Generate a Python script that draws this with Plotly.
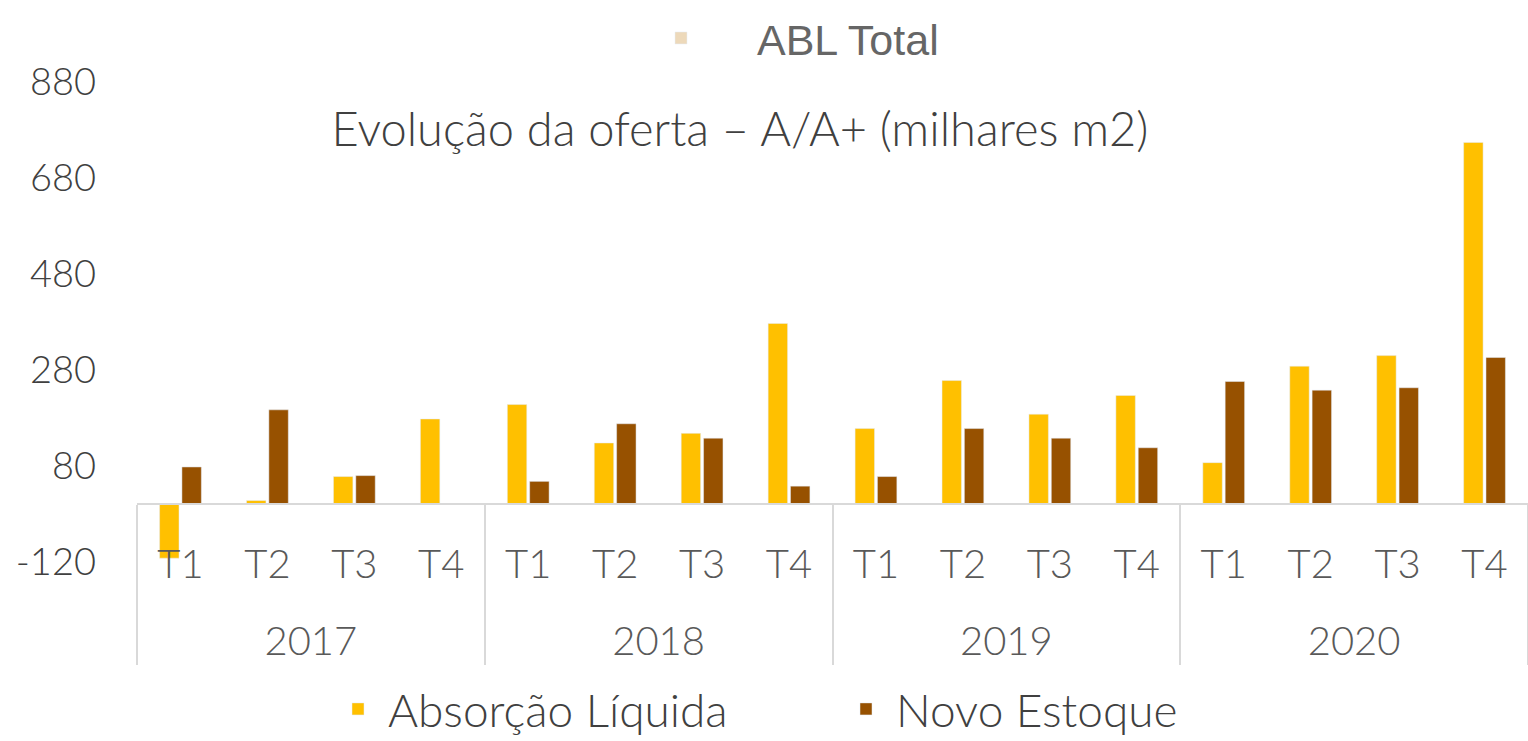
import plotly.graph_objects as go

years = ["2017"] * 4 + ["2018"] * 4 + ["2019"] * 4 + ["2020"] * 4
quarters = ["T1", "T2", "T3", "T4"] * 4

absorcao_liquida = [-112, 8, 58, 178, 208, 128, 148, 377, 158, 258, 188, 227, 87, 288, 310, 754]
novo_estoque = [78, 197, 60, 0, 48, 168, 138, 38, 58, 158, 138, 118, 256, 238, 243, 306]
abl_total = [None] * 16

y_min, y_max, y_step = -120, 880, 200
y_ticks = list(range(y_min, y_max + 1, y_step))
y_tick_text = [str(v) for v in y_ticks]

title_text = "Evolução da oferta – A/A+ (milhares m2)"

FONT = "Lato"
GOLD = "#FFC000"
BROWN = "#975100"
BEIGE = "#EDD9BA"

# second-level labels pushed one line lower to mimic the reference spacing
year_labels = ["<br>" + y for y in years]
x_cats = [year_labels, quarters]

fig = go.Figure()
fig.add_trace(go.Bar(x=x_cats, y=absorcao_liquida, name="Absorção Líquida",
                     marker=dict(color=GOLD), offsetgroup="a", legend="legend"))
fig.add_trace(go.Bar(x=x_cats, y=novo_estoque, name="Novo Estoque",
                     marker=dict(color=BROWN), offsetgroup="b", legend="legend"))
fig.add_trace(go.Bar(x=x_cats, y=abl_total, name="ABL Total",
                     marker=dict(color=BEIGE), offsetgroup="a", legend="legend2"))

zero_pos = (0 - y_min) / (y_max - y_min)

fig.update_layout(
    width=1528, height=741,
    margin=dict(l=137, r=0, t=82, b=741 - 562, autoexpand=False),
    paper_bgcolor="white", plot_bgcolor="white",
    barmode="group", bargap=0.486, bargroupgap=0.13,
    font=dict(family=FONT, color="#404040"),
    title=dict(text=title_text, x=740 / 1528, xref="container", xanchor="center",
               y=1 - 130 / 741, yref="container", yanchor="middle",
               font=dict(family=FONT, size=47, color="#404040", weight=300)),
    xaxis=dict(type="multicategory", anchor="free", position=zero_pos,
               showline=True, linecolor="#D9D9D9", linewidth=2,
               showdividers=True, dividercolor="#D9D9D9", dividerwidth=2,
               ticks="", showgrid=False, ticklabelstandoff=25,
               tickfont=dict(family=FONT, size=40, color="#595959", weight=300)),
    yaxis=dict(range=[y_min, y_max], tickvals=y_ticks, ticktext=y_tick_text,
               showgrid=False, zeroline=False,
               showline=False, ticks="", ticklabelstandoff=40,
               tickfont=dict(family=FONT, size=38, color="#404040", weight=300)),
    legend=dict(orientation="h", xref="container", x=328 / 1528, xanchor="left",
                yref="container", y=1 - 709 / 741, yanchor="middle",
                font=dict(family=FONT, size=46, color="#404040", weight=300),
                itemwidth=50, entrywidth=443, entrywidthmode="pixels",
                traceorder="normal", bgcolor="rgba(0,0,0,0)"),
    legend2=dict(orientation="h", xref="container", x=605 / 1528, xanchor="left",
                 yref="container", y=1 - 38 / 741, yanchor="middle",
                 font=dict(family="Liberation Sans", size=43, color="#666666"),
                 itemwidth=142, bgcolor="rgba(0,0,0,0)"),
    showlegend=True,
)

fig.write_html("out.html", config={"displayModeBar": False},
               post_script="document.body.style.margin='0px';")
